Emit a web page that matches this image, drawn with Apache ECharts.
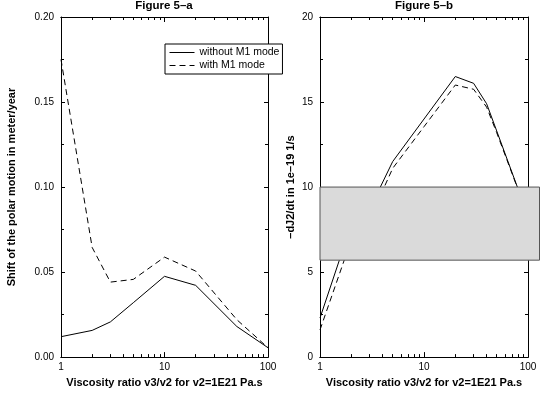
<!DOCTYPE html>
<html>
<head>
<meta charset="utf-8">
<script src="https://cdn.jsdelivr.net/npm/echarts@6/dist/echarts.min.js"></script>
<style>html,body{margin:0;padding:0;background:#fff;}#c{width:543px;height:393px;}</style>
</head>
<body>
<div id="c"></div>
<script>
// ---- data ----
const viscosityA = [1, 2, 3, 5, 10, 20, 50, 100];
const shiftWithout = [0.012, 0.0157, 0.0207, 0.032, 0.0475, 0.0422, 0.018, 0.0055];
const shiftWith = [0.175, 0.0645, 0.0441, 0.0457, 0.0588, 0.0506, 0.022, 0.0055];

const viscosityB = [1, 2, 3, 5, 10, 20, 30, 40, 50, 100];
const dj2Without = [2.3, 7.8, 8.7, 11.5, 14.0, 16.5, 16.1, 14.9, 13.3, 8.3];
const dj2With = [1.6, 6.9, 8.1, 11.1, 13.55, 16.0, 15.75, 14.7, 13.2, 8.3];

// shaded box in panel b: [xFrom, xTo, yFrom, yTo]
const boxRange = [1, 129, 5.7, 10];

const xMinorTicks = [2, 3, 4, 5, 6, 7, 8, 9, 20, 30, 40, 50, 60, 70, 80, 90];
const titles = ['Figure 5\u2013a', 'Figure 5\u2013b'];
const seriesNames = ['without M1 mode', 'with M1 mode'];
const xName = 'Viscosity ratio v3/v2 for v2=1E21 Pa.s';
const yNameA = 'Shift of the polar motion in meter/year';
const yNameB = '\u2013dJ2/dt in 1e\u201319 1/s';

const FONT = "'Liberation Sans', Arial, Helvetica, sans-serif";
const black = '#000';

const grids = [
  {left: 61, top: 17, width: 207, height: 341},
  {left: 320, top: 17, width: 208, height: 341}
];

function xAxes(gi) {
  const base = {type: 'log', logBase: 10, min: 1, max: 100, gridIndex: gi,
    splitLine: {show: false}, axisLine: {show: true, lineStyle: {color: black, width: 1}}};
  return [
    Object.assign({}, base, {position: 'bottom',
      axisTick: {show: true, inside: true, length: 5, lineStyle: {color: black}},
      axisLabel: {show: true, color: black, fontSize: 10, fontFamily: FONT, margin: 5},
      name: xName, nameLocation: 'middle', nameGap: 19,
      nameTextStyle: {color: black, fontSize: 11, fontWeight: 'bold', fontFamily: FONT}}),
    Object.assign({}, base, {position: 'bottom',
      axisTick: {show: true, inside: true, length: 3, customValues: xMinorTicks, lineStyle: {color: black}},
      axisLabel: {show: false}}),
    Object.assign({}, base, {position: 'top',
      axisTick: {show: true, inside: true, length: 5, lineStyle: {color: black}},
      axisLabel: {show: false}}),
    Object.assign({}, base, {position: 'top',
      axisTick: {show: true, inside: true, length: 3, customValues: xMinorTicks, lineStyle: {color: black}},
      axisLabel: {show: false}})
  ];
}

function yAxes(gi, max, interval, name, gap, fmt) {
  const base = {type: 'value', min: 0, max: max, interval: interval, gridIndex: gi,
    splitLine: {show: false},
    axisLine: {show: true, lineStyle: {color: black, width: 1}},
    axisTick: {show: true, inside: true, length: 4, lineStyle: {color: black}},
    minorTick: {show: true, splitNumber: 2, length: 3, lineStyle: {color: black}},
    minorSplitLine: {show: false}};
  return [
    Object.assign({}, base, {position: 'left',
      axisLabel: {show: true, color: black, fontSize: 10, fontFamily: FONT, margin: 7, formatter: fmt},
      name: name, nameLocation: 'middle', nameGap: gap,
      nameTextStyle: {color: black, fontSize: 11, fontWeight: 'bold', fontFamily: FONT}}),
    Object.assign({}, base, {position: 'right', axisLabel: {show: false}})
  ];
}

function lineSeries(name, xs, ys, xi, yi, dashed) {
  return {
    type: 'line', name: name, xAxisIndex: xi, yAxisIndex: yi,
    data: xs.map((x, i) => [x, ys[i]]),
    symbol: 'circle', showSymbol: false, smooth: false, z: 3,
    lineStyle: {color: black, width: 1, type: dashed ? [6, 4] : 'solid'},
    itemStyle: {color: black}
  };
}

const chart = echarts.init(document.getElementById('c'), null, {renderer: 'canvas'});
const option = {
  animation: false,
  backgroundColor: '#fff',
  title: [
    {text: titles[0], left: 164, top: 0, padding: 0, textAlign: 'center',
     textStyle: {fontSize: 11.5, fontWeight: 'bold', color: black, fontFamily: FONT}},
    {text: titles[1], left: 424, top: 0, padding: 0, textAlign: 'center',
     textStyle: {fontSize: 11.5, fontWeight: 'bold', color: black, fontFamily: FONT}}
  ],
  legend: {
    left: 165, top: 44, orient: 'vertical',
    backgroundColor: '#fff', borderColor: black, borderWidth: 1,
    padding: [3, 3, 3, 4], itemWidth: 25, itemHeight: 10, itemGap: 2,
    itemStyle: {opacity: 0},
    lineStyle: {width: 1},
    textStyle: {fontSize: 10.5, color: black, fontFamily: FONT},
    data: seriesNames, z: 10
  },
  grid: grids,
  xAxis: xAxes(0).concat(xAxes(1)),
  yAxis: yAxes(0, 0.2, 0.05, yNameA, 44, v => v.toFixed(2))
    .concat(yAxes(1, 20, 5, yNameB, 24, v => String(v))),
  series: [
    lineSeries(seriesNames[0], viscosityA, shiftWithout, 0, 0, false),
    lineSeries(seriesNames[1], viscosityA, shiftWith, 0, 0, true),
    lineSeries(seriesNames[0], viscosityB, dj2Without, 4, 2, false),
    lineSeries(seriesNames[1], viscosityB, dj2With, 4, 2, true),
    {
      type: 'custom', xAxisIndex: 4, yAxisIndex: 2, clip: false, z: 5, silent: true,
      encode: {x: [0, 1], y: [2, 3]},
      data: [boxRange],
      renderItem: function (params, api) {
        const p1 = api.coord([api.value(0), api.value(3)]);
        const p2 = api.coord([api.value(1), api.value(2)]);
        return {type: 'rect',
          shape: {x: p1[0], y: p1[1], width: p2[0] - p1[0], height: p2[1] - p1[1]},
          style: {fill: '#dadada', stroke: '#555', lineWidth: 1}};
      }
    }
  ]
};
chart.setOption(option);
</script>
</body>
</html>
